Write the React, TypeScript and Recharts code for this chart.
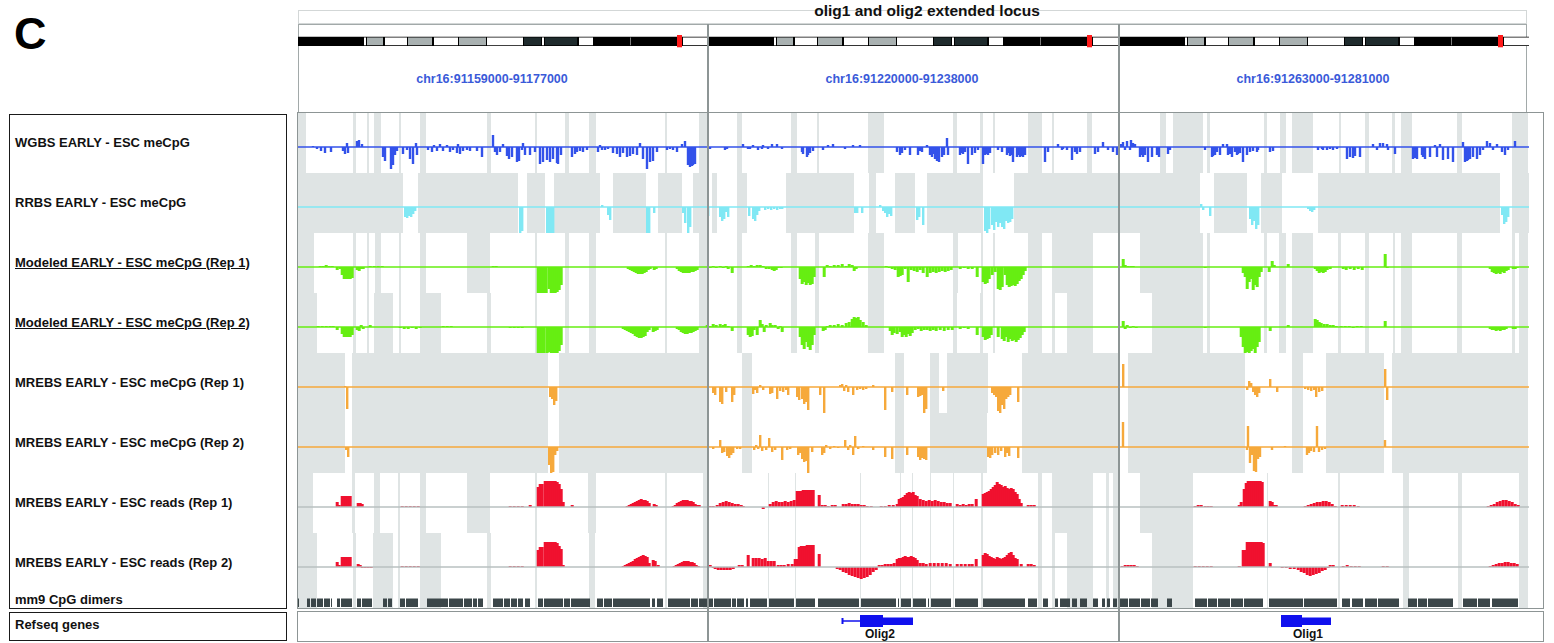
import { ComposedChart, Bar, XAxis, YAxis, ReferenceArea, ReferenceLine, ReferenceDot } from 'recharts';

type Pt = [number, number];
type Span = [number, number];

// positions are in bins of the 18 kb window (410 bins per panel), values are signal heights
const REGIONS = ['chr16:91159000-91177000', 'chr16:91220000-91238000', 'chr16:91263000-91281000'];

const WGBS_P1: Pt[] = [[15,1],[19,-2],[23,-4],[27,-6],[33,-5],[45,-4],[47,-7],[49,4],[50,-6],[59,6],[61,7],[64,3],[85,-10],[87,-14],[93,-22],[95,-18],[97,-8],[99,-4],[105,-7],[109,-3],[112,-12],[115,-17],[118,4],[119,-8],[130,-3],[134,-5],[136,2],[139,-4],[142,3],[145,-4],[149,2],[152,-5],[155,-3],[159,-6],[160,3],[162,-7],[165,-4],[169,-3],[172,-4],[179,-4],[184,-10],[195,12],[197,-5],[199,-8],[202,-5],[205,3],[209,-9],[211,-12],[214,-10],[219,-15],[221,-14],[224,-3],[225,4],[227,-8],[232,-8],[237,-5],[242,-17],[245,-15],[249,-13],[252,-15],[255,-12],[259,-16],[260,-17],[263,-8],[274,-10],[277,-7],[279,-5],[282,-4],[285,-5],[289,-3],[300,-5],[302,2],[304,-3],[307,-3],[310,-2],[315,-6],[319,-7],[322,-10],[325,-6],[329,-10],[332,-9],[335,-7],[339,-8],[342,4],[345,-12],[349,-22],[352,-15],[355,-14],[359,-5],[369,-3],[372,-2],[375,-3],[379,-5],[384,3],[387,6],[390,-18],[392,-20],[394,-19],[395,-18],[397,-17]];
const WGBS_P2: Pt[] = [[2,-2],[17,-3],[19,-2],[35,3],[40,-2],[42,-2],[45,2],[50,-3],[54,-2],[55,2],[60,-2],[64,3],[69,3],[74,-2],[94,-5],[95,-7],[99,-10],[100,-8],[102,-6],[105,-4],[115,-3],[120,2],[125,3],[137,-2],[145,2],[152,2],[189,-5],[192,-8],[194,-6],[197,-3],[202,-8],[210,-8],[212,-4],[214,-5],[219,2],[222,-8],[224,-10],[225,-7],[227,-12],[229,-14],[230,-10],[231,-15],[234,-10],[236,-8],[239,9],[240,-8],[252,-8],[254,-6],[255,-7],[257,-5],[260,-17],[264,-8],[267,-6],[270,-3],[275,-17],[277,-8],[279,-7],[280,-8],[282,-6],[290,-3],[294,-5],[299,-8],[300,-6],[302,-9],[304,-8],[305,-15],[309,-10],[310,-8],[312,-10],[314,-9],[315,-10],[317,-8],[337,-15],[340,-5],[350,3],[354,-3],[355,-2],[359,-3],[364,-13],[367,-5],[369,-7],[372,-5],[387,-7],[390,-5],[395,5],[400,-3],[405,-5],[409,-8]];
const WGBS_P3: Pt[] = [[2,3],[4,5],[6,-3],[8,6],[11,-3],[12,7],[14,4],[16,3],[21,-10],[23,-8],[24,-10],[26,-8],[29,-15],[33,-10],[38,-8],[40,-10],[49,-7],[51,-3],[86,-3],[93,-10],[94,-9],[96,-8],[98,-5],[101,-8],[104,3],[108,3],[109,-8],[111,-7],[113,-10],[116,-5],[118,-8],[119,-7],[121,-6],[124,-15],[128,-8],[131,-5],[134,-4],[138,-5],[139,-3],[151,-5],[154,-4],[199,-3],[203,-2],[204,-3],[208,-3],[211,-2],[214,-3],[218,-2],[228,-12],[231,-10],[234,-11],[236,-9],[241,-10],[254,3],[258,-3],[261,4],[264,4],[268,3],[269,-3],[276,-7],[294,-12],[296,-11],[298,-12],[303,-8],[304,-10],[306,-12],[311,-10],[316,2],[318,-10],[321,3],[324,-13],[329,-12],[334,-15],[344,5],[346,-15],[348,-14],[349,-13],[351,-12],[354,-10],[358,-12],[361,-8],[364,-3],[368,6],[371,4],[374,-3],[378,3],[383,-5],[386,-8],[389,-3],[396,6]];

const RRBS_P1: Pt[] = [[107,-10],[109,-11],[111,-9],[113,-10],[115,-7],[117,-4],[222,-26],[224,-24],[249,-26],[251,-26],[253,-26],[255,-26],[304,2],[310,-8],[312,-13],[349,-26],[351,-26],[356,-6],[385,-6],[387,-16],[390,-26],[392,-20]];
const RRBS_P2: Pt[] = [[0,-9],[12,-10],[14,-14],[16,-12],[18,-5],[20,-10],[41,-9],[45,-12],[47,-14],[49,-8],[51,-4],[57,-3],[60,-2],[63,-3],[66,-2],[69,-3],[72,-2],[74,-2],[147,-6],[149,-6],[154,-6],[172,2],[175,-4],[177,-6],[179,-10],[181,-7],[183,-9],[209,-13],[211,-10],[215,-18],[277,-24],[279,-26],[281,-22],[284,-18],[286,-23],[288,-15],[290,-20],[292,-16],[294,-20],[296,-22],[298,-14],[300,-16],[302,-15],[304,-12]];
const RRBS_P3: Pt[] = [[82,3],[84,-3],[91,-9],[131,-12],[133,-18],[135,-14],[137,-22],[139,-18],[189,-2],[191,-4],[193,-5],[195,-3],[383,-8],[385,-17],[387,-15],[389,-10]];

const MOD1_P1: Pt[] = [[22,1],[25,1],[28,2],[31,1],[34,1],[39,-3],[42,-2],[44,-8],[46,-12],[48,-12],[50,-12],[52,-12],[54,-11],[59,-3],[61,-4],[63,-2],[65,-2],[72,1],[76,1],[80,1],[84,1],[195,1],[198,1],[240,-26],[242,-26],[244,-27],[246,-26],[248,-26],[251,-22],[253,-26],[255,-26],[257,-26],[259,-25],[261,-23],[263,-18],[330,-2],[332,-3],[334,-4],[336,-5],[338,-6],[340,-7],[342,-7],[344,-7],[346,-6],[348,-5],[350,-3],[352,-2],[356,-3],[358,-2],[379,-2],[381,-4],[383,-5],[385,-6],[387,-6],[389,-6],[391,-6],[393,-5],[395,-5],[397,-4],[399,-3]];
const MOD1_P2: Pt[] = [[2,-1],[5,1],[8,-1],[12,1],[15,-1],[18,1],[20,-2],[24,-6],[40,1],[43,2],[46,1],[49,2],[52,2],[55,1],[58,-2],[61,-2],[64,-3],[66,-4],[68,-3],[70,-1],[73,-1],[92,-12],[94,-17],[96,-15],[98,-18],[100,-16],[102,-18],[104,-17],[106,-10],[116,-10],[119,2],[122,1],[126,2],[130,2],[134,3],[138,1],[141,3],[144,2],[146,-4],[148,-2],[178,1],[181,-1],[184,-2],[187,-3],[190,-10],[192,-9],[194,-8],[197,-2],[200,-15],[203,-3],[206,-4],[209,-5],[212,-3],[215,-6],[219,-10],[222,-6],[225,-5],[228,-6],[231,-5],[234,-4],[237,-5],[240,-4],[243,-3],[252,-2],[256,-1],[260,-2],[264,-2],[269,-10],[275,-15],[277,-17],[279,-16],[281,-12],[284,-8],[287,-5],[290,-22],[292,-23],[294,-20],[297,-8],[299,-18],[301,-20],[303,-19],[305,-18],[307,-19],[309,-17],[311,-14],[313,-12],[315,-8],[317,-4]];
const MOD1_P3: Pt[] = [[4,8],[6,2],[9,1],[12,1],[14,1],[86,-1],[124,-6],[126,-10],[128,-22],[130,-15],[132,-12],[134,-23],[136,-18],[138,-20],[140,-10],[142,-5],[150,-5],[153,6],[155,2],[169,3],[196,-2],[198,-4],[200,-6],[202,-5],[204,-6],[206,-5],[208,-3],[211,-2],[224,-2],[227,-3],[231,-2],[235,-3],[239,-2],[243,-3],[266,13],[268,-1],[371,-2],[373,-5],[375,-6],[377,-7],[379,-6],[381,-7],[383,-5],[385,-6],[387,-4],[389,-3],[394,-2],[396,-2],[398,-1]];

const MOD2_P1: Pt[] = [[20,1],[24,1],[28,1],[32,1],[35,1],[39,-3],[44,-7],[46,-10],[48,-10],[50,-10],[52,-10],[54,-8],[59,-3],[61,-4],[63,2],[65,-2],[72,2],[102,-1],[106,-2],[110,-2],[114,-1],[118,-2],[122,-1],[145,1],[149,1],[153,1],[212,-1],[216,-1],[220,-1],[224,-1],[240,-26],[242,-27],[244,-27],[246,-26],[249,-27],[251,-25],[253,-27],[255,-27],[257,-26],[259,-26],[261,-24],[263,-18],[325,-2],[327,-3],[329,-4],[331,-5],[333,-6],[335,-7],[337,-9],[339,-10],[341,-11],[343,-11],[345,-10],[347,-9],[349,-5],[351,-3],[355,-5],[357,-4],[359,-3],[379,-2],[381,-3],[383,-5],[385,-6],[387,-7],[389,-7],[391,-6],[393,-6],[395,-5],[397,-4],[399,-3],[409,2]];
const MOD2_P2: Pt[] = [[2,1],[5,3],[8,2],[12,3],[15,2],[17,3],[20,1],[24,-4],[40,-8],[42,-10],[44,-9],[46,-3],[49,-8],[52,7],[54,3],[56,-5],[58,2],[62,4],[64,2],[67,2],[70,-2],[72,1],[74,-5],[92,-10],[94,-18],[96,-22],[98,-15],[100,-20],[102,-23],[104,-18],[106,-8],[115,-4],[117,-3],[119,1],[122,2],[126,2],[130,3],[134,2],[138,4],[141,5],[144,8],[146,10],[148,9],[150,10],[152,7],[155,5],[158,2],[182,-4],[184,-8],[186,-6],[189,-7],[192,-5],[194,-10],[196,-8],[198,-10],[200,-7],[202,-9],[204,-6],[207,-3],[210,-2],[213,-4],[216,-3],[219,-3],[222,-4],[225,-3],[228,-4],[232,-3],[236,-4],[240,-3],[244,-3],[252,-2],[256,-1],[260,-2],[269,-8],[275,-10],[277,-13],[279,-12],[281,-11],[283,-8],[290,-10],[294,-12],[296,-14],[298,-10],[300,-15],[302,-12],[304,-14],[306,-13],[308,-15],[310,-13],[312,-11],[314,-8],[316,-5]];
const MOD2_P3: Pt[] = [[4,6],[6,-2],[8,2],[11,-1],[14,1],[17,-1],[86,-1],[122,-10],[124,-20],[126,-27],[128,-25],[130,-27],[132,-24],[134,-22],[136,-27],[138,-20],[140,-15],[151,-4],[169,2],[196,8],[198,7],[200,5],[202,4],[205,3],[208,3],[211,2],[214,2],[217,1],[222,1],[226,1],[230,1],[234,-1],[238,1],[242,1],[266,6],[371,-2],[373,-3],[375,-3],[377,-4],[379,-3],[381,-4],[383,-3],[385,-3],[387,-2],[394,-2],[396,-2]];

const MREBS1_P1: Pt[] = [[47,1],[49,-22],[252,-10],[254,-12],[256,-18],[258,-14]];
const MREBS1_P2: Pt[] = [[5,-6],[7,-8],[12,-15],[14,-17],[18,-5],[24,-15],[26,-8],[45,-7],[47,-3],[49,-6],[52,2],[55,-3],[62,-7],[64,-6],[69,-12],[72,-4],[75,-5],[78,-3],[80,-8],[89,-10],[91,-13],[94,-12],[96,-17],[98,-15],[100,-23],[112,-8],[116,-27],[132,2],[134,3],[136,-4],[138,2],[140,-5],[145,-8],[149,-3],[152,-2],[155,-3],[158,-2],[165,2],[177,-23],[184,-5],[199,-8],[210,-10],[212,-9],[214,-8],[216,-27],[218,-22],[235,-4],[284,-6],[286,-8],[288,-10],[290,-24],[292,-27],[294,-18],[296,-22],[298,-12],[300,-10],[302,-8],[310,-15]];
const MREBS1_P3: Pt[] = [[4,23],[128,-3],[130,6],[132,4],[134,-5],[136,-8],[138,-10],[140,-6],[151,8],[158,-5],[186,-2],[189,-3],[192,-4],[195,-3],[197,-10],[200,-5],[203,-4],[266,18],[268,-13]];

const MREBS2_P1: Pt[] = [[48,-3],[50,-10],[251,-18],[253,-26],[255,-25],[257,-8],[259,-4]];
const MREBS2_P2: Pt[] = [[5,-2],[12,7],[14,-6],[16,-5],[19,-9],[21,-11],[23,-8],[25,-6],[29,-2],[32,-2],[46,-3],[48,2],[50,-2],[52,12],[54,-4],[58,-3],[61,9],[64,-5],[67,-3],[74,-13],[79,-3],[82,-2],[90,-8],[92,-6],[94,-12],[96,-15],[98,-14],[100,-26],[104,-5],[114,-8],[116,-6],[118,2],[122,-2],[126,1],[130,-1],[137,7],[140,-3],[142,2],[145,-8],[147,11],[150,-2],[155,1],[165,-3],[177,-10],[184,-12],[199,-8],[210,-10],[212,-13],[214,-11],[216,-12],[218,-13],[280,-10],[282,-11],[284,-8],[287,-6],[290,-8],[293,-4],[297,-10],[299,-6],[301,-9],[310,-11]];
const MREBS2_P3: Pt[] = [[4,25],[128,-3],[129,21],[131,-16],[133,-8],[135,-24],[137,-25],[139,-12],[141,-10],[153,-3],[166,1],[188,-8],[190,-6],[192,-4],[195,-5],[198,21],[200,-5],[203,-3],[206,-2],[266,7]];

const READS1_P1: Pt[] = [[39,5],[41,2],[44,11],[46,11],[48,11],[50,11],[52,11],[60,4],[62,4],[64,3],[104,1],[108,1],[112,1],[116,1],[120,1],[212,1],[216,1],[220,1],[224,1],[232,2],[240,20],[242,23],[244,23],[247,26],[249,26],[251,26],[253,26],[255,26],[257,26],[259,25],[261,23],[263,18],[265,5],[274,2],[329,1],[331,2],[333,3],[335,4],[337,5],[339,6],[341,7],[343,8],[345,7],[347,7],[349,6],[351,4],[356,3],[358,2],[375,1],[377,2],[379,4],[381,5],[383,6],[385,7],[387,7],[389,7],[391,6],[393,6],[395,5],[397,3],[399,2],[401,2]];
const READS1_P2: Pt[] = [[2,1],[5,1],[9,2],[12,4],[15,5],[18,6],[21,5],[24,4],[27,3],[30,3],[33,2],[35,1],[55,-2],[62,3],[65,5],[68,6],[71,5],[74,5],[77,6],[80,5],[83,6],[86,7],[89,16],[91,16],[93,16],[95,17],[97,17],[99,17],[101,17],[103,17],[105,17],[111,12],[114,2],[117,2],[120,1],[124,2],[127,2],[135,3],[138,3],[141,4],[144,3],[147,3],[150,3],[153,2],[156,2],[159,1],[163,1],[173,1],[177,1],[181,2],[185,2],[189,3],[191,8],[193,9],[195,10],[197,12],[199,14],[201,15],[203,14],[205,15],[207,12],[209,11],[212,8],[215,7],[218,6],[221,7],[224,6],[227,7],[230,6],[233,5],[236,5],[239,4],[242,4],[249,3],[252,2],[255,3],[258,2],[261,3],[264,3],[268,8],[275,13],[277,14],[279,15],[281,16],[283,18],[285,20],[287,22],[289,25],[291,23],[293,22],[295,20],[297,21],[299,19],[301,18],[303,19],[305,18],[307,15],[309,13],[311,8],[313,4],[320,2],[323,2],[326,2]];
const READS1_P3: Pt[] = [[76,1],[79,2],[82,2],[86,1],[89,1],[92,1],[120,2],[122,5],[125,18],[127,24],[129,26],[131,26],[133,26],[135,26],[137,26],[139,26],[141,26],[143,25],[151,6],[153,5],[155,2],[157,2],[186,1],[189,2],[192,3],[195,4],[198,5],[201,5],[204,6],[207,6],[210,5],[213,3],[216,1],[223,2],[227,2],[231,2],[235,2],[239,1],[369,1],[372,2],[375,3],[378,5],[381,6],[384,7],[387,7],[390,6],[393,5],[396,3],[399,2]];

const READS2_P1: Pt[] = [[39,5],[41,2],[44,10],[46,10],[48,10],[50,10],[52,10],[60,3],[62,2],[64,-1],[67,-1],[70,-1],[73,-1],[104,1],[108,1],[112,1],[116,1],[120,1],[212,1],[216,1],[220,1],[224,1],[240,17],[242,20],[244,20],[247,25],[249,25],[251,25],[253,25],[255,25],[257,25],[259,24],[261,21],[263,18],[265,2],[325,1],[327,2],[329,3],[331,4],[333,5],[335,6],[337,8],[339,9],[341,10],[343,11],[345,12],[347,11],[349,10],[351,4],[355,7],[357,6],[360,2],[376,1],[378,2],[380,3],[382,4],[384,5],[386,6],[388,6],[390,6],[392,5],[394,5],[396,4],[398,2],[400,1]];
const READS2_P2: Pt[] = [[2,2],[5,-1],[7,-2],[10,-3],[13,-3],[16,-3],[19,-3],[22,-3],[25,-2],[31,2],[34,2],[40,12],[45,9],[48,9],[51,9],[54,8],[57,9],[60,6],[63,6],[66,6],[70,2],[73,2],[76,2],[80,3],[84,3],[87,8],[89,8],[91,20],[93,21],[95,21],[97,21],[99,22],[101,22],[103,22],[105,22],[111,13],[129,-2],[132,-3],[135,-5],[138,-6],[141,-8],[144,-9],[147,-10],[150,-11],[153,-12],[156,-11],[159,-10],[162,-8],[165,-5],[168,-3],[171,2],[174,2],[177,3],[180,3],[183,3],[186,4],[189,8],[191,9],[193,9],[195,10],[197,11],[199,10],[201,10],[203,11],[205,10],[207,9],[209,7],[212,4],[215,4],[218,3],[222,4],[226,4],[230,4],[234,4],[238,4],[242,3],[249,3],[253,3],[257,3],[261,3],[264,3],[268,8],[275,12],[277,14],[279,13],[281,11],[283,10],[285,9],[287,8],[289,10],[291,9],[293,8],[295,9],[297,10],[299,12],[301,14],[303,15],[305,12],[307,9],[309,8],[313,3],[320,3],[323,3],[326,2]];
const READS2_P3: Pt[] = [[3,1],[6,2],[9,2],[12,2],[15,2],[18,1],[76,1],[80,1],[84,1],[88,1],[92,1],[120,1],[124,17],[126,17],[128,25],[130,25],[132,25],[134,25],[136,25],[138,25],[140,25],[142,25],[144,24],[151,4],[163,-1],[167,-1],[171,-2],[175,-2],[179,-3],[182,-5],[185,-6],[188,-8],[191,-9],[194,-8],[197,-7],[200,-6],[203,-4],[206,-3],[209,-1],[211,2],[214,2],[224,1],[228,2],[232,1],[236,1],[240,1],[264,1],[268,1],[371,1],[374,2],[377,3],[380,4],[383,4],[386,5],[389,5],[392,4],[395,4],[398,3]];

// regions without coverage (shaded) per track and panel
const WGBS_GAPS: Span[][] = [
  [[0,8],[55,58],[69,71],[76,83],[101,103],[122,128],[189,193],[237,239],[267,271],[291,298],[367,369],[401,410]],
  [[29,34],[83,89],[109,111],[160,176],[245,249],[272,275],[285,287],[320,334],[344,346],[379,384]],
  [[41,47],[54,84],[88,91],[145,148],[161,167],[173,194],[220,222],[246,250],[273,276],[282,293],[338,343],[393,409]],
];
const RRBS_GAPS: Span[][] = [
  [[0,105],[120,220],[229,247],[256,302],[315,348],[360,384],[395,410]],
  [[4,9],[29,39],[78,146],[161,168],[187,207],[219,275],[306,410]],
  [[0,81],[95,128],[142,163],[199,381],[393,410]],
];
const MOD1_GAPS: Span[][] = [
  [[0,16],[55,58],[69,71],[77,83],[101,103],[122,128],[169,192],[237,239],[267,271],[291,298],[367,369],[401,410]],
  [[29,34],[83,89],[107,111],[160,176],[245,250],[273,275],[285,287],[320,334],[344,385]],
  [[21,84],[88,91],[145,148],[160,167],[173,194],[219,222],[246,250],[274,276],[282,293],[338,343],[393,396],[400,409]],
];
const MOD2_GAPS: Span[][] = [
  [[0,19],[55,58],[69,71],[76,95],[101,103],[122,143],[189,193],[237,239],[267,271],[291,298],[367,369],[401,410]],
  [[29,34],[83,89],[107,111],[160,176],[245,249],[272,275],[285,287],[320,334],[344,347],[359,385]],
  [[33,84],[88,91],[145,148],[160,167],[173,194],[219,222],[246,250],[274,276],[282,293],[338,343],[393,396],[400,409]],
];
const MREBS1_GAPS: Span[][] = [
  [[0,47],[54,250],[261,410]],
  [[34,44],[187,196],[222,231],[239,280],[314,410]],
  [[9,126],[173,184],[207,265],[273,409]],
];
const MREBS2_GAPS: Span[][] = [
  [[0,47],[54,250],[261,410]],
  [[34,44],[187,196],[222,279],[314,410]],
  [[9,126],[173,184],[207,265],[273,409]],
];
const READS1_GAPS: Span[][] = [
  [[0,15],[54,57],[76,82],[100,102],[122,128],[169,192],[237,239],[290,298],[367,369],[405,410]],
  [[60,61],[87,88],[152,153],[192,193],[204,205],[222,223],[245,246],[273,275],[330,334],[344,385],[398,401],[405,410]],
  [[21,74],[148,149],[219,221],[284,290],[339,343],[400,409]],
];
const READS2_GAPS: Span[][] = [
  [[0,19],[55,58],[75,95],[100,102],[122,143],[189,193],[237,239],[291,297],[367,369],[405,410]],
  [[60,61],[87,88],[152,153],[192,193],[204,205],[222,223],[245,246],[273,275],[330,334],[344,347],[359,385],[398,401],[405,410]],
  [[33,74],[148,149],[219,221],[284,290],[339,343],[400,409]],
];

// mm9 CpG dimer runs
const CPG_P1: Span[] = [[0,1],[9,12],[13,18],[19,25],[26,32],[33,34],[39,42],[43,54],[59,63],[64,74],[85,89],[90,94],[102,107],[108,120],[129,150],[151,165],[166,174],[175,179],[180,185],[195,205],[206,212],[213,219],[220,225],[227,232],[240,245],[246,265],[266,272],[273,292],[299,305],[306,314],[315,352],[354,357],[359,365],[370,392],[393,400],[401,409]];
const CPG_P2: Span[] = [[0,5],[6,23],[24,28],[29,36],[38,40],[42,59],[61,86],[88,107],[110,151],[153,188],[190,191],[193,203],[205,218],[220,221],[223,243],[247,270],[275,317],[320,329],[335,340],[347,350],[352,362],[364,369],[372,379],[385,390],[394,397],[399,402],[405,409]];
const CPG_P3: Span[] = [[1,9],[10,21],[22,31],[32,39],[48,53],[76,88],[89,98],[99,111],[112,124],[125,144],[150,184],[185,218],[223,231],[233,244],[246,258],[259,280],[289,298],[299,308],[309,334],[344,358],[359,371],[373,399]];

// cytoband strip: [start, end, stain]
const BANDS: [number, number, string][] = [[0,65,'gpos100'],[66,68,'gneg'],[69,85,'gpos50'],[87,109,'gneg'],[110,134,'gpos50'],[136,160,'gneg'],[161,188,'gpos50'],[189,225,'gneg'],[226,243,'gvar'],[244,246,'gneg'],[247,279,'gvar'],[281,295,'gneg'],[296,379,'gpos100'],[332,333,'tick'],[385,410,'gneg'],[379,384,'acen']];

// Refseq genes: panel, name, intron span, thick exon, thin exon
const GENES = [
  { panel: 1, name: 'Olig2', intron: [134, 152], thick: [152, 175], thin: [175, 205], labelAt: 172 },
  { panel: 2, name: 'Olig1', intron: null, thick: [162, 183], thin: [183, 212], labelAt: 189 },
];

const STAIN: Record<string, string> = { gneg: '#ffffff', gpos50: '#a9b1b1', gpos100: '#000000', gvar: '#1f2b2d', tick: '#7a7a7a', acen: '#ff1a1a' };

const GAP = '#dfe4e4';
const EDGE = '#8d9595';
const FONT = '"Liberation Sans", Arial, Helvetica, sans-serif';
const PANEL_LEFT = [298, 708, 1119];
const PANEL_W = 410;
const TRACK_TOP = 113;
const TRACK_H = 60;
const NO_MARGIN = { top: 0, right: 0, bottom: 0, left: 0 };

const TRACKS = [
  { label: 'WGBS EARLY - ESC meCpG', panels: [WGBS_P1, WGBS_P2, WGBS_P3], gaps: WGBS_GAPS, color: '#3352ea', line: '#3352ea', w: 2.4 },
  { label: 'RRBS EARLY - ESC meCpG', panels: [RRBS_P1, RRBS_P2, RRBS_P3], gaps: RRBS_GAPS, color: '#80e8f4', line: '#80e8f4', w: 2.4 },
  { label: 'Modeled EARLY - ESC meCpG (Rep 1)', panels: [MOD1_P1, MOD1_P2, MOD1_P3], gaps: MOD1_GAPS, color: '#66ee12', line: '#66ee12', w: 3, underline: true },
  { label: 'Modeled EARLY - ESC meCpG (Rep 2)', panels: [MOD2_P1, MOD2_P2, MOD2_P3], gaps: MOD2_GAPS, color: '#66ee12', line: '#66ee12', w: 3, underline: true },
  { label: 'MREBS EARLY - ESC meCpG (Rep 1)', panels: [MREBS1_P1, MREBS1_P2, MREBS1_P3], gaps: MREBS1_GAPS, color: '#f6a93b', line: '#f6a93b', w: 2.4 },
  { label: 'MREBS EARLY - ESC meCpG (Rep 2)', panels: [MREBS2_P1, MREBS2_P2, MREBS2_P3], gaps: MREBS2_GAPS, color: '#f6a93b', line: '#f6a93b', w: 2.4 },
  { label: 'MREBS EARLY - ESC reads (Rep 1)', panels: [READS1_P1, READS1_P2, READS1_P3], gaps: READS1_GAPS, color: '#f0112f', line: '#b9c0c0', w: 3 },
  { label: 'MREBS EARLY - ESC reads (Rep 2)', panels: [READS2_P1, READS2_P2, READS2_P3], gaps: READS2_GAPS, color: '#f0112f', line: '#b9c0c0', w: 3 },
];

// fixed-width bar centred on its position, works for either sign
function barShape(w: number) {
  return (p: any) => {
    const { x, y, width, height, fill } = p;
    if (x == null || y == null || !height) return <g />;
    const cx = x + width / 2;
    return <rect x={cx - w / 2} y={Math.min(y, y + height)} width={w} height={Math.abs(height)} fill={fill} />;
  };
}

function TrackPanel({ points, gaps, color, line, w }: { points: Pt[]; gaps: Span[]; color: string; line: string; w: number }) {
  const data = points.map(([pos, v]) => ({ pos, v }));
  return (
    <ComposedChart width={PANEL_W} height={TRACK_H} data={data} margin={NO_MARGIN}>
      <XAxis type="number" dataKey="pos" domain={[0, 410]} allowDataOverflow hide />
      <YAxis type="number" domain={[-26, 34]} allowDataOverflow hide />
      {gaps.map(([a, b], i) => (
        <ReferenceArea key={i} x1={a} x2={b} fill={GAP} fillOpacity={1} stroke="none" />
      ))}
      <Bar dataKey="v" fill={color} isAnimationActive={false} shape={barShape(w)} />
      <ReferenceLine y={0} stroke={line} strokeWidth={1.5} />
    </ComposedChart>
  );
}

function Ideogram() {
  return (
    <ComposedChart width={PANEL_W} height={15} data={[{ x: 0 }, { x: 410 }]} margin={NO_MARGIN}>
      <XAxis type="number" dataKey="x" domain={[0, 410]} allowDataOverflow hide />
      <YAxis type="number" domain={[0, 15]} allowDataOverflow hide />
      <ReferenceArea x1={0} x2={410} y1={2} y2={11.3} fill="#000" fillOpacity={1} stroke="none" />
      {BANDS.map(([a, b, s], i) => (
        <ReferenceArea key={i} x1={a} x2={b} y1={s === 'acen' ? 0.7 : 2.8} y2={s === 'acen' ? 13 : 10.5} fill={STAIN[s]} fillOpacity={1} stroke="none" />
      ))}
    </ComposedChart>
  );
}

function CpgPanel({ runs, gaps }: { runs: Span[]; gaps: Span[] }) {
  return (
    <ComposedChart width={PANEL_W} height={15} data={[{ x: 0 }, { x: 410 }]} margin={NO_MARGIN}>
      <XAxis type="number" dataKey="x" domain={[0, 410]} allowDataOverflow hide />
      <YAxis type="number" domain={[0, 15]} allowDataOverflow hide />
      {gaps.map(([a, b], i) => (
        <ReferenceArea key={'g' + i} x1={a} x2={b} fill={GAP} fillOpacity={1} stroke="none" />
      ))}
      {runs.map(([a, b], i) => (
        <ReferenceArea key={'r' + i} x1={a} x2={b} y1={1} y2={9.5} fill="#3b4649" fillOpacity={1} stroke="none" />
      ))}
    </ComposedChart>
  );
}

function GenePanel({ panel }: { panel: number }) {
  const genes = GENES.filter((g) => g.panel === panel);
  return (
    <ComposedChart width={PANEL_W} height={29} data={[{ x: 0 }, { x: 410 }]} margin={NO_MARGIN}>
      <XAxis type="number" dataKey="x" domain={[0, 410]} allowDataOverflow hide />
      <YAxis type="number" domain={[0, 29]} allowDataOverflow hide />
      {genes.map((g) => (
        <g key={g.name}>
          {g.intron && (
            <ReferenceLine segment={[{ x: g.intron[0], y: 20 }, { x: g.intron[1], y: 20 }]} stroke="#1010ee" strokeWidth={1.5} />
          )}
          {g.intron && (
            <ReferenceLine segment={[{ x: g.intron[0] + 0.5, y: 17 }, { x: g.intron[0] + 0.5, y: 23 }]} stroke="#1010ee" strokeWidth={2} />
          )}
          <ReferenceArea x1={g.thick[0]} x2={g.thick[1]} y1={14} y2={26} fill="#1010ee" fillOpacity={1} stroke="none" />
          <ReferenceArea x1={g.thin[0]} x2={g.thin[1]} y1={16} y2={23.5} fill="#1010ee" fillOpacity={1} stroke="none" />
          <ReferenceDot x={g.labelAt} y={7.5} r={1} fill="none" stroke="none"
            label={{ value: g.name, position: 'center', fill: '#111', fontSize: 12, fontWeight: 700, fontFamily: FONT }} />
        </g>
      ))}
    </ComposedChart>
  );
}

const abs = (left: number, top: number, extra: React.CSSProperties = {}): React.CSSProperties => ({ position: 'absolute', left, top, ...extra });

export default function App() {
  return (
    <div style={{ position: 'absolute', left: 0, top: 0, width: 1554, height: 643, background: '#fff', fontFamily: FONT, overflow: 'hidden' }}>
      <div style={abs(14, 11, { fontSize: 45, fontWeight: 700, lineHeight: '45px', color: '#000' })}>C</div>

      {/* title box */}
      <div style={abs(298, 10, { width: 1229, height: 14, border: '1px solid #d3d7d7', boxSizing: 'border-box' })} />
      <div style={abs(627, 3, { width: 600, textAlign: 'center', fontSize: 15.5, fontWeight: 700, lineHeight: '16px', color: '#111' })}>
        olig1 and olig2 extended locus
      </div>

      {/* panel headers */}
      {PANEL_LEFT.map((left, p) => (
        <div key={p}>
          <div style={abs(left, 24, { width: p === 2 ? 408 : 411, height: 89, border: '1.5px solid #a2a9a9', boxSizing: 'border-box' })} />
          <div style={abs(left, 33)}>
            <Ideogram />
          </div>
          <div style={abs(left + 194 - 120, 71, { width: 240, textAlign: 'center', fontSize: 12.5, fontWeight: 700, lineHeight: '16px', color: '#3a5ad9' })}>
            {REGIONS[p]}
          </div>
        </div>
      ))}

      {/* tracks */}
      {TRACKS.map((t, i) =>
        t.panels.map((pts, p) => (
          <div key={i + '-' + p} style={abs(PANEL_LEFT[p], TRACK_TOP + i * TRACK_H)}>
            <TrackPanel points={pts} gaps={t.gaps[p]} color={t.color} line={t.line} w={t.w} />
          </div>
        ))
      )}
      {[CPG_P1, CPG_P2, CPG_P3].map((runs, p) => (
        <div key={'cpg' + p} style={abs(PANEL_LEFT[p], 593)}>
          <CpgPanel runs={runs} gaps={READS2_GAPS[p]} />
        </div>
      ))}
      {PANEL_LEFT.map((left, p) => (
        <div key={'gene' + p} style={abs(left, 612)}>
          <GenePanel panel={p} />
        </div>
      ))}

      {/* track frames */}
      <div style={abs(297, 112, { width: 1247, height: 497, border: '1.5px solid ' + EDGE, boxSizing: 'border-box' })} />
      <div style={abs(297, 611, { width: 1247, height: 31, border: '1.5px solid ' + EDGE, boxSizing: 'border-box' })} />
      <div style={abs(707, 24, { width: 2, height: 618, background: EDGE })} />
      <div style={abs(1118, 24, { width: 2, height: 618, background: EDGE })} />

      {/* label column */}
      <div style={abs(9, 114, { width: 278, height: 495, border: '1.5px solid #1a1a1a', boxSizing: 'border-box' })} />
      <div style={abs(9, 612, { width: 278, height: 29, border: '1.5px solid #1a1a1a', boxSizing: 'border-box' })} />
      {TRACKS.map((t, i) => (
        <div key={'lab' + i} style={abs(15, 134.5 + i * TRACK_H, { fontSize: 13, fontWeight: 700, lineHeight: '16px', color: '#111', textDecoration: t.underline ? 'underline' : 'none', whiteSpace: 'nowrap' })}>
          {t.label}
        </div>
      ))}
      <div style={abs(15, 592, { fontSize: 13, fontWeight: 700, lineHeight: '16px', color: '#111' })}>mm9 CpG dimers</div>
      <div style={abs(15, 617, { fontSize: 13, fontWeight: 700, lineHeight: '16px', color: '#111' })}>Refseq genes</div>
    </div>
  );
}
